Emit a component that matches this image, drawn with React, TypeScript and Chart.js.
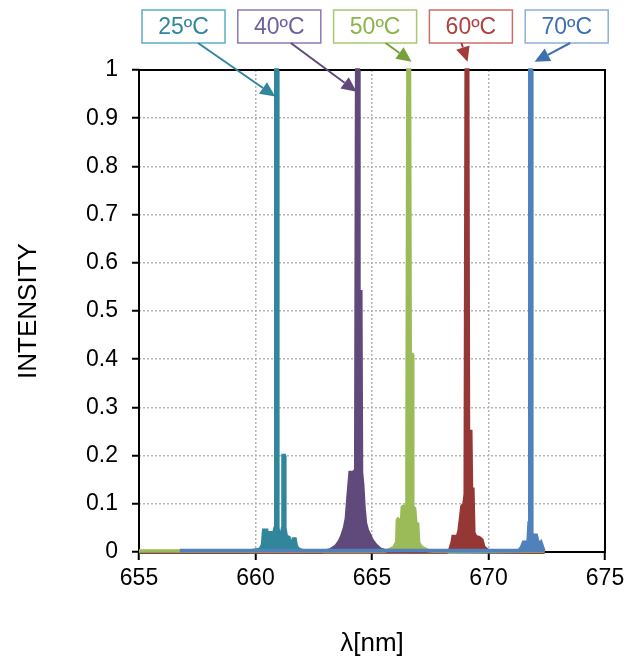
import React, { useEffect, useRef } from 'react';
import { Chart, registerables } from 'chart.js';

Chart.register(...registerables);

// ---- Data (wavelength in nm, normalized intensity) ----
const wl25 = [655, 659.4, 659.9, 660.2, 660.3, 660.35, 660.48, 660.53, 660.62, 660.68, 660.78, 660.84, 660.87, 660.93, 660.96, 661.02, 661.1, 661.16, 661.18, 661.23, 661.26, 661.32, 661.44, 661.5, 661.58, 661.62, 661.7, 661.75, 661.85, 662.0, 662.3, 672.4];
const in25 = [0, 0, 0.003, 0.006, 0.015, 0.045, 0.045, 0.022, 0.04, 0.04, 0.038, 0.05, 1, 1, 0.05, 0.033, 0.033, 0.05, 0.2, 0.2, 0.05, 0.033, 0.03, 0.012, 0.015, 0.027, 0.027, 0.012, 0.006, 0.003, 0.001, 0];

const wl40 = [655, 662.8, 663.2, 663.45, 663.6, 663.72, 663.82, 663.9, 663.98, 664.06, 664.2, 664.3, 664.34, 664.41, 664.44, 664.52, 664.55, 664.6, 664.66, 664.72, 664.8, 664.9, 665.0, 665.15, 665.35, 665.6, 672.4];
const in40 = [0, 0, 0.004, 0.012, 0.022, 0.035, 0.05, 0.07, 0.12, 0.165, 0.165, 0.17, 1, 1, 0.54, 0.54, 0.165, 0.14, 0.09, 0.06, 0.045, 0.035, 0.025, 0.015, 0.006, 0.002, 0];

const wl50 = [655, 665.55, 665.75, 665.95, 666.06, 666.09, 666.12, 666.16, 666.2, 666.24, 666.3, 666.35, 666.46, 666.5, 666.54, 666.61, 666.64, 666.72, 666.75, 666.83, 666.88, 666.96, 667.0, 667.08, 667.2, 667.4, 667.6, 672.4];
const in50 = [0.002, 0.002, 0.005, 0.01, 0.02, 0.066, 0.068, 0.066, 0.04, 0.04, 0.093, 0.095, 0.095, 0.2, 1, 1, 0.41, 0.41, 0.095, 0.09, 0.06, 0.058, 0.02, 0.012, 0.008, 0.003, 0.002, 0.002];

const wl60 = [655, 668.2, 668.35, 668.44, 668.48, 668.6, 668.66, 668.74, 668.8, 668.86, 668.95, 669.0, 669.04, 669.11, 669.14, 669.24, 669.27, 669.33, 669.37, 669.45, 669.6, 669.72, 669.8, 669.95, 670.1, 672.4];
const in60 = [0, 0, 0.005, 0.02, 0.032, 0.032, 0.03, 0.045, 0.07, 0.095, 0.1, 0.12, 1, 1, 0.25, 0.25, 0.13, 0.13, 0.04, 0.032, 0.03, 0.025, 0.01, 0.004, 0.001, 0];

const wl70 = [656.75, 671.3, 671.42, 671.5, 671.62, 671.7, 671.74, 671.77, 671.83, 671.86, 671.95, 672.05, 672.1, 672.17, 672.25, 672.32, 672.38];
const in70 = [0.003, 0.003, 0.01, 0.02, 0.02, 0.022, 0.06, 1, 1, 0.035, 0.035, 0.035, 0.025, 0.015, 0.02, 0.01, 0.003];

const seriesNames = ['25ºC', '40ºC', '50ºC', '60ºC', '70ºC'];
const seriesColors = ['#31869B', '#604A7B', '#9BBB59', '#953735', '#4F81BD'];

const xTickLabels = ['655', '660', '665', '670', '675'];
const yTickLabels = ['0', '0.1', '0.2', '0.3', '0.4', '0.5', '0.6', '0.7', '0.8', '0.9', '1'];
const xTitle = 'λ[nm]';
const yTitle = 'INTENSITY';

// annotation callouts: arrow tip in data coordinates
const calloutTipWl = [660.85, 664.34, 666.7, 669.1, 671.98];
const calloutTipInt = [0.945, 0.955, 1.017, 1.017, 1.017];
const calloutText = ['#31859C', '#7060A0', '#8DB449', '#B0413E', '#3F6FB0'];
const calloutBorder = ['#5AAFC4', '#8C78B4', '#A8C870', '#CC6E6B', '#8EAFD8'];
const calloutArrow = ['#31859C', '#604A7B', '#77A03C', '#A33C3A', '#3E6FAE'];

const FONT = '"Liberation Sans", Arial, sans-serif';

const makePts = (xs: number[], ys: number[]) => xs.map((x, i) => ({ x, y: ys[i] }));

const framePlugin = {
  id: 'frame',
  beforeDatasetsDraw(chart: any) {
    const { ctx, chartArea } = chart;
    ctx.save();
    ctx.strokeStyle = '#000';
    ctx.lineWidth = 2;
    ctx.strokeRect(chartArea.left, chartArea.top, chartArea.right - chartArea.left, chartArea.bottom - chartArea.top);
    ctx.restore();
  },
};

const calloutPlugin = {
  id: 'callouts',
  afterDraw(chart: any) {
    const { ctx, scales } = chart;
    const xs = scales.x;
    const ys = scales.y;
    ctx.save();
    const boxW = 83, boxH = 33, boxTop = 10;
    const startOff = [56, 53, 52, 32, 45];
    seriesNames.forEach((lab, i) => {
      const bx = 142 + i * 95.8;
      ctx.fillStyle = '#fff';
      ctx.fillRect(bx, boxTop, boxW, boxH);
      ctx.strokeStyle = calloutBorder[i];
      ctx.lineWidth = 1.5;
      ctx.strokeRect(bx, boxTop, boxW, boxH);
      ctx.fillStyle = calloutText[i];
      ctx.font = '23px ' + FONT;
      ctx.textAlign = 'center';
      ctx.textBaseline = 'middle';
      ctx.fillText(lab, bx + boxW / 2, boxTop + boxH / 2 + 1);

      const sx = bx + startOff[i];
      const sy = boxTop + boxH;
      const tx = xs.getPixelForValue(calloutTipWl[i]);
      const ty = ys.getPixelForValue(calloutTipInt[i]);
      const ang = Math.atan2(ty - sy, tx - sx);
      const L = 15, W = 7;
      const bpx = tx - L * Math.cos(ang);
      const bpy = ty - L * Math.sin(ang);
      ctx.strokeStyle = calloutArrow[i];
      ctx.lineWidth = 2;
      ctx.beginPath();
      ctx.moveTo(sx, sy);
      ctx.lineTo(bpx, bpy);
      ctx.stroke();
      ctx.fillStyle = calloutArrow[i];
      ctx.beginPath();
      ctx.moveTo(tx, ty);
      ctx.lineTo(bpx + W * Math.sin(ang), bpy - W * Math.cos(ang));
      ctx.lineTo(bpx - W * Math.sin(ang), bpy + W * Math.cos(ang));
      ctx.closePath();
      ctx.fill();
    });
    ctx.restore();
  },
};

export default function App() {
  const ref = useRef<HTMLCanvasElement | null>(null);
  useEffect(() => {
    if (!ref.current) return;
    const wls = [wl25, wl40, wl50, wl60, wl70];
    const ins = [in25, in40, in50, in60, in70];
    const orders = [4, 3, 1, 2, 0];
    const chart = new Chart(ref.current, {
      type: 'line',
      data: {
        datasets: seriesNames.map((name, i) => ({
          label: name,
          data: makePts(wls[i], ins[i]),
          borderColor: seriesColors[i],
          backgroundColor: seriesColors[i],
          borderWidth: 3.5,
          pointRadius: 0,
          tension: 0,
          fill: 'origin',
          order: orders[i],
          clip: 4,
        })),
      },
      options: {
        animation: false,
        responsive: false,
        devicePixelRatio: 1,
        layout: { padding: { top: 70, right: 32, left: 0, bottom: 0 } },
        plugins: { legend: { display: false }, tooltip: { enabled: false } },
        scales: {
          x: {
            type: 'linear',
            min: 655,
            max: 675,
            afterFit: (s: any) => { s.height = 111; },
            ticks: {
              stepSize: 5,
              color: '#000',
              font: { family: FONT, size: 23 },
              padding: 5,
              maxRotation: 0,
              callback: (_v: any, i: number) => xTickLabels[i],
            },
            grid: {
              color: '#B4B4B4',
              lineWidth: 1.5,
              tickColor: '#000',
              tickWidth: 2,
              tickLength: 8,
            },
            border: { display: false, dash: [2, 2] },
            title: {
              display: true,
              text: xTitle,
              color: '#000',
              font: { family: FONT, size: 26 },
              padding: { top: 0, bottom: 4 },
            },
          },
          y: {
            min: 0,
            max: 1,
            afterFit: (s: any) => { s.width = 139; },
            ticks: {
              stepSize: 0.1,
              color: '#000',
              font: { family: FONT, size: 23 },
              padding: 14,
              callback: (_v: any, i: number) => yTickLabels[i],
            },
            grid: {
              color: '#B4B4B4',
              lineWidth: 1.5,
              tickColor: '#000',
              tickWidth: 2,
              tickLength: 7,
            },
            border: { display: false, dash: [2, 2] },
            title: {
              display: true,
              text: yTitle,
              color: '#000',
              font: { family: FONT, size: 26 },
              padding: { top: 13, bottom: 0 },
            },
          },
        },
      },
      plugins: [framePlugin, calloutPlugin],
    });
    return () => chart.destroy();
  }, []);
  return (
    <div style={{ position: 'fixed', left: 0, top: 0, width: 637, height: 663, background: '#fff' }}>
      <canvas ref={ref} width={637} height={663} />
    </div>
  );
}
